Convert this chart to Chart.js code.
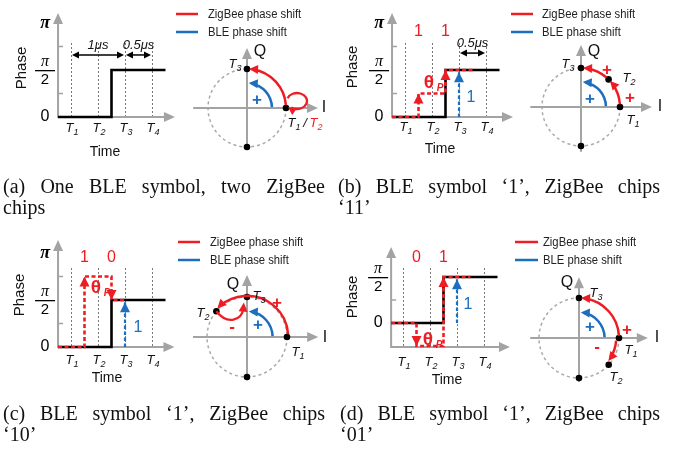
<!DOCTYPE html>
<html>
<head>
<meta charset="utf-8">
<script src="https://cdn.jsdelivr.net/npm/chart.js@4.4.1/dist/chart.umd.min.js"></script>
<style>
  body { margin: 0; background: #fff; }
  #wrap { position: relative; width: 678px; height: 453px; }
  .cap { position: absolute; font: 20px "Liberation Serif", serif; line-height: 20px; color: #111; white-space: nowrap; }
  .j { white-space: normal; text-align: justify; text-align-last: justify; }
</style>
</head>
<body>
<div id="wrap">
  <canvas id="fig" width="678" height="453"></canvas>
  <div class="cap j" style="left:3px;top:176px;width:322px">(a) One BLE symbol, two ZigBee</div>
  <div class="cap" style="left:3px;top:197px">chips</div>
  <div class="cap j" style="left:338px;top:176px;width:322px">(b) BLE symbol ‘1’, ZigBee chips</div>
  <div class="cap" style="left:338px;top:197px">‘11’</div>
  <div class="cap j" style="left:3px;top:403px;width:322px">(c) BLE symbol ‘1’, ZigBee chips</div>
  <div class="cap" style="left:3px;top:424px">‘10’</div>
  <div class="cap j" style="left:340px;top:403px;width:320px">(d) BLE symbol ‘1’, ZigBee chips</div>
  <div class="cap" style="left:340px;top:424px">‘01’</div>
</div>
<script>
// time axis
const timeTickLabels = ['T1', 'T2', 'T3', 'T4'];
const timeTickPos = [1, 2, 3, 4];
// phase axis, values in units of pi/4
const phaseTickLabels = ['0', 'π/2', 'π'];
const phaseTickPos = [0, 2, 4];

// BLE symbol phase (black step) per panel: [time, phase]
const bleA = [[0.52, 0], [2.5, 0], [2.5, 2], [4.5, 2]];
const bleB = [[0.52, 0], [2.5, 0], [2.5, 2], [4.5, 2]];
const bleC = [[0.52, 0], [2.5, 0], [2.5, 2], [4.5, 2]];
const bleD = [[0.56, 0], [2.5, 0], [2.5, 2], [4.5, 2]];

// ZigBee chip phase (red dashed)
const zigB = [[0.52, 0], [1.5, 0], [1.5, 1], [2.5, 1], [2.5, 2], [3.5, 2]];
const zigC = [[0.52, 0], [1.5, 0], [1.5, 3], [2.5, 3], [2.5, 2], [3, 2]];
const zigD = [[0.56, 0], [1.5, 0], [1.5, -1], [2.5, -1], [2.5, 2], [3.5, 2]];

// BLE phase shift at T3 (blue dashed arrow)
const bleShift = [[3, 0], [3, 1.9]];

// chip bits and where they sit on the time axis
const chipPos = [1.5, 2.5];
const bitsB = ['1', '1'];
const bitsC = ['1', '0'];
const bitsD = ['0', '1'];

// constellation points, degrees
const constA = [0, 90, 270];
const constB = [0, 45, 90, 270];
const constC = [0, 140, 90, 270];
const constD = [0, -42, 90, 270];

const W = 678, H = 453;
const RED = '#ee1d23', BLUE = '#1c6fbe', GRAY = '#a3a3a3';

const steps = [
  { key: 'a', ble: bleA, zig: null, shift: null, bits: null,
    x0: 71, dx: 27, y0: 117, dy: 23.5, axisV: 0.52, xAxisV: 0, xEnd: 4.85, yTop: 4.43, dotTop: 3.15,
    minor: [1, 3], nTicks: 3, tY: 128, time: [105, 152], phase: [22, 68],
    dims: [[1, 3, '1μs'], [3, 4, '0.5μs']], dimV: 2.64,
    legend: { x1: 176, x2: 198, tx: 208, y1: 14, y2: 32 } },
  { key: 'b', ble: bleB, zig: zigB, shift: bleShift, bits: bitsB,
    x0: 405, dx: 27, y0: 117, dy: 23.5, axisV: 0.52, xAxisV: 0, xEnd: 5.0, yTop: 4.43, dotTop: 3.15,
    minor: [1, 3], nTicks: 3, tY: 127, time: [440, 149], phase: [353, 67],
    dims: [[3, 4, '0.5μs']], dimV: 2.72, bitsV: 3.62, theta: [433, 83], blueOne: [471, 98],
    legend: { x1: 511, x2: 533, tx: 542, y1: 14, y2: 32 } },
  { key: 'c', ble: bleC, zig: zigC, shift: bleShift, bits: bitsC,
    x0: 71, dx: 27, y0: 347, dy: 23.5, axisV: 0.52, xAxisV: 0, xEnd: 4.83, yTop: 4.55, dotTop: 3.36,
    minor: [1, 3], nTicks: 3, tY: 360, time: [107, 378], phase: [20, 295],
    dims: [], bitsV: 3.79, theta: [100, 288], blueOne: [138, 328],
    legend: { x1: 178, x2: 200, tx: 210, y1: 242, y2: 260 } },
  { key: 'd', ble: bleD, zig: zigD, shift: bleShift, bits: bitsD,
    x0: 403, dx: 27, y0: 323, dy: 23, axisV: 0.56, xAxisV: -1.04, xEnd: 4.96, yTop: 3.3, dotTop: 2.39,
    minor: [1], nTicks: 2, tY: 362, time: [447, 380], phase: [353, 297],
    dims: [], bitsV: 2.83, theta: [432, 340], blueOne: [468, 305],
    legend: { x1: 515, x2: 538, tx: 543, y1: 242, y2: 260 } }
];

const circles = [
  { key: 'a', pts: constA, cx: 247, cy: 108, r: 39, iR: [-1.38, 1.82], qR: [-1.08, 1.54], Q: [260, 52], I: [324, 108],
    blue: [0.64, 2, 86], blueMark: [257, 100],
    red: [[1, 4, 87]], marks: [],
    tl: [['3', 235, 64, '#111']] },
  { key: 'b', pts: constB, cx: 581, cy: 107, r: 39, iR: [-1.3, 1.82], qR: [-1.15, 1.59], Q: [594, 52], I: [660, 107],
    blue: [0.64, 2, 86], blueMark: [590, 99],
    red: [[1, 4, 42], [1, 49, 87]], marks: [['+', 630, 98], ['+', 607, 70]],
    tl: [['3', 568, 64, '#111'], ['2', 629, 78, '#111'], ['1', 633, 120, '#111']] },
  { key: 'c', pts: constC, cx: 247, cy: 337, r: 40, iR: [-1.35, 1.78], qR: [-1.08, 1.55], Q: [233, 285], I: [325, 338],
    blue: [0.64, 2, 86], blueMark: [258, 325],
    red: [[1.03, 4, 136]], marks: [['+', 277, 303], ['-', 232, 327]],
    tl: [['3', 259, 296, '#111'], ['2', 203, 313, '#111'], ['1', 298, 352, '#111']] },
  { key: 'd', pts: constD, cx: 579, cy: 338, r: 40, iR: [-1.22, 1.72], qR: [-1.1, 1.52], Q: [567, 283], I: [657, 338],
    blue: [0.64, 2, 86], blueMark: [590, 327],
    red: [[1.0, 3, 87], [0.93, -4, -38]], marks: [['+', 627, 330], ['-', 597, 347]],
    tl: [['3', 596, 293, '#111'], ['1', 631, 350, '#111'], ['2', 616, 377, '#111']] }
];

const scales = {
  x: { display: false }, y: { display: false }
};
const datasets = [];

steps.forEach(p => {
  scales['x' + p.key] = { type: 'linear', axis: 'x', display: false, min: 1 - p.x0 / p.dx, max: 1 + (W - p.x0) / p.dx };
  scales['y' + p.key] = { type: 'linear', axis: 'y', display: false, min: (p.y0 - H) / p.dy, max: p.y0 / p.dy };
  const ids = { xAxisID: 'x' + p.key, yAxisID: 'y' + p.key, showLine: true, pointRadius: 0, tension: 0, fill: false };
  datasets.push({ ...ids, data: p.ble.map(([x, y]) => ({ x, y })), borderColor: '#000', borderWidth: 2.6, order: 3 });
  if (p.zig) datasets.push({ ...ids, data: p.zig.map(([x, y]) => ({ x, y })), borderColor: RED, borderWidth: 2.6,
    borderDash: [4, 2.5], order: 1, arrows: true });
  if (p.shift) datasets.push({ ...ids, data: p.shift.map(([x, y]) => ({ x, y })), borderColor: BLUE, borderWidth: 2.2,
    borderDash: [3.5, 2.5], order: 2, arrows: true });
});

circles.forEach(c => {
  scales['xC' + c.key] = { type: 'linear', axis: 'x', display: false, min: -c.cx / c.r, max: (W - c.cx) / c.r };
  scales['yC' + c.key] = { type: 'linear', axis: 'y', display: false, min: (c.cy - H) / c.r, max: c.cy / c.r };
  datasets.push({
    xAxisID: 'xC' + c.key, yAxisID: 'yC' + c.key, showLine: false,
    data: c.pts.map(a => ({ x: Math.cos(a * Math.PI / 180), y: Math.sin(a * Math.PI / 180) })),
    pointRadius: 3.3, pointBackgroundColor: '#000', pointBorderWidth: 0, order: 0
  });
});

function head(ctx, x, y, ang, len, wid, col) {
  ctx.save();
  ctx.translate(x, y);
  ctx.rotate(ang);
  ctx.fillStyle = col;
  ctx.beginPath();
  ctx.moveTo(0, 0);
  ctx.lineTo(-len, -wid / 2);
  ctx.lineTo(-len, wid / 2);
  ctx.closePath();
  ctx.fill();
  ctx.restore();
}

function tLabel(ctx, sub, x, y, col, subCol) {
  ctx.save();
  ctx.textBaseline = 'middle';
  ctx.textAlign = 'left';
  ctx.font = 'italic 13px "Liberation Sans"';
  const w = ctx.measureText('T').width;
  ctx.font = 'italic 9px "Liberation Sans"';
  const w2 = ctx.measureText(sub).width;
  const xs = x - (w + w2) / 2;
  ctx.fillStyle = col;
  ctx.font = 'italic 13px "Liberation Sans"';
  ctx.fillText('T', xs, y);
  ctx.fillStyle = subCol || col;
  ctx.font = 'italic 9px "Liberation Sans"';
  ctx.fillText(sub, xs + w, y + 4);
  ctx.restore();
}

function tickLabel(ctx, txt, x, y) {
  ctx.fillStyle = '#000';
  ctx.textAlign = 'center';
  ctx.textBaseline = 'middle';
  if (txt.includes('/')) {
    const [n, d] = txt.split('/');
    ctx.font = 'italic 16px "Liberation Serif"';
    ctx.fillText(n, x, y - 8);
    ctx.font = '15px "Liberation Sans"';
    ctx.fillText(d, x, y + 10);
    ctx.fillRect(x - 10, y, 20, 1.3);
  } else if (txt === 'π') {
    ctx.font = 'italic bold 18px "Liberation Serif"';
    ctx.fillText(txt, x, y);
  } else {
    ctx.font = '16px "Liberation Sans"';
    ctx.fillText(txt, x, y);
  }
}

function arcArrow(ctx, cx, cy, rp, a0, a1, col, lw) {
  const s = a1 > a0 ? 1 : -1;
  const r0 = a0 * Math.PI / 180, r1 = a1 * Math.PI / 180, re = (a1 - s * 6) * Math.PI / 180;
  ctx.strokeStyle = col;
  ctx.lineWidth = lw;
  ctx.beginPath();
  ctx.arc(cx, cy, rp, -r0, -re, s > 0);
  ctx.stroke();
  const ex = cx + rp * Math.cos(r1), ey = cy - rp * Math.sin(r1);
  head(ctx, ex, ey, Math.atan2(-s * Math.cos(r1), -s * Math.sin(r1)), 9, 9, col);
}

function drawStepFrame(chart, ctx, p) {
  const xs = chart.scales['x' + p.key], ys = chart.scales['y' + p.key];
  const X = v => xs.getPixelForValue(v), Y = v => ys.getPixelForValue(v);
  ctx.save();
  ctx.strokeStyle = '#777';
  ctx.lineWidth = 1;
  ctx.setLineDash([2, 2]);
  timeTickPos.forEach(t => {
    ctx.beginPath();
    ctx.moveTo(Math.round(X(t)) + 0.5, Y(p.dotTop));
    ctx.lineTo(Math.round(X(t)) + 0.5, Y(p.xAxisV));
    ctx.stroke();
  });
  ctx.setLineDash([]);
  ctx.strokeStyle = GRAY;
  ctx.lineWidth = 2;
  const ax = X(p.axisV), ay = Y(p.xAxisV);
  ctx.beginPath();
  ctx.moveTo(ax, ay + 1);
  ctx.lineTo(ax, Y(p.yTop) + 8);
  ctx.moveTo(ax - 1, ay);
  ctx.lineTo(X(p.xEnd) - 8, ay);
  ctx.stroke();
  head(ctx, ax, Y(p.yTop), -Math.PI / 2, 11, 10, GRAY);
  head(ctx, X(p.xEnd), ay, 0, 11, 10, GRAY);
  ctx.lineWidth = 1.5;
  p.minor.forEach(v => {
    ctx.beginPath();
    ctx.moveTo(ax, Y(v));
    ctx.lineTo(ax + 5, Y(v));
    ctx.stroke();
  });
  ctx.restore();
}

function drawStepText(chart, ctx, p) {
  const xs = chart.scales['x' + p.key], ys = chart.scales['y' + p.key];
  const X = v => xs.getPixelForValue(v), Y = v => ys.getPixelForValue(v);
  const ax = X(p.axisV);
  ctx.save();
  for (let i = 0; i < p.nTicks; i++) tickLabel(ctx, phaseTickLabels[i], ax - 13, Y(phaseTickPos[i]));
  timeTickLabels.forEach((l, i) => tLabel(ctx, l.slice(1), X(timeTickPos[i]) + 1, p.tY, '#111'));
  ctx.fillStyle = '#111';
  ctx.textAlign = 'center';
  ctx.textBaseline = 'middle';
  ctx.font = '14px "Liberation Sans"';
  ctx.fillText('Time', p.time[0], p.time[1]);
  ctx.save();
  ctx.translate(p.phase[0], p.phase[1]);
  ctx.rotate(-Math.PI / 2);
  ctx.font = '15px "Liberation Sans"';
  ctx.fillText('Phase', 0, 0);
  ctx.restore();

  // duration markers
  p.dims.forEach(([t0, t1, txt]) => {
    const y = Y(p.dimV), xa = X(t0) + 1, xb = X(t1) - 1;
    ctx.strokeStyle = '#000';
    ctx.lineWidth = 1.5;
    ctx.beginPath();
    ctx.moveTo(xa + 5, y);
    ctx.lineTo(xb - 5, y);
    ctx.stroke();
    head(ctx, xa, y, Math.PI, 7, 7, '#000');
    head(ctx, xb, y, 0, 7, 7, '#000');
    ctx.fillStyle = '#111';
    ctx.font = 'italic 13px "Liberation Sans"';
    ctx.fillText(txt, (xa + xb) / 2, y - 10);
  });

  if (p.bits) {
    ctx.fillStyle = RED;
    ctx.font = '16px "Liberation Sans"';
    p.bits.forEach((b, i) => ctx.fillText(b, X(chipPos[i]), Y(p.bitsV)));
    ctx.font = 'bold 19px "Liberation Sans"';
    ctx.fillText('θ', p.theta[0] - 4, p.theta[1]);
    ctx.font = 'bold italic 10px "Liberation Sans"';
    ctx.fillText('P', p.theta[0] + 7, p.theta[1] + 5);
    ctx.fillStyle = BLUE;
    ctx.font = '16px "Liberation Sans"';
    ctx.fillText('1', p.blueOne[0], p.blueOne[1]);
  }

  // legend
  const L = p.legend;
  ctx.lineWidth = 2.5;
  [[RED, L.y1, 'ZigBee phase shift'], [BLUE, L.y2, 'BLE phase shift']].forEach(([col, y, txt]) => {
    ctx.strokeStyle = col;
    ctx.beginPath();
    ctx.moveTo(L.x1, y);
    ctx.lineTo(L.x2, y);
    ctx.stroke();
    ctx.save();
    ctx.translate(L.tx, y);
    ctx.scale(0.9, 1);
    ctx.fillStyle = '#222';
    ctx.textAlign = 'left';
    ctx.font = '12.5px "Liberation Sans"';
    ctx.fillText(txt, 0, 1);
    ctx.restore();
  });
  ctx.restore();
}

function drawCircleFrame(chart, ctx, c) {
  const xs = chart.scales['xC' + c.key], ys = chart.scales['yC' + c.key];
  const X = v => xs.getPixelForValue(v), Y = v => ys.getPixelForValue(v);
  const cx = X(0), cy = Y(0), rp = X(1) - X(0);
  ctx.save();
  ctx.strokeStyle = '#aaa';
  ctx.lineWidth = 1.5;
  ctx.setLineDash([3, 3]);
  ctx.beginPath();
  ctx.arc(cx, cy, rp, 0, Math.PI * 2);
  ctx.stroke();
  ctx.setLineDash([]);
  ctx.strokeStyle = GRAY;
  ctx.lineWidth = 2;
  ctx.beginPath();
  ctx.moveTo(X(c.iR[0]), cy);
  ctx.lineTo(X(c.iR[1]) - 8, cy);
  ctx.moveTo(cx, Y(c.qR[0]));
  ctx.lineTo(cx, Y(c.qR[1]) + 8);
  ctx.stroke();
  head(ctx, X(c.iR[1]), cy, 0, 11, 10, GRAY);
  head(ctx, cx, Y(c.qR[1]), -Math.PI / 2, 11, 10, GRAY);
  ctx.restore();
}

function drawCircleMarks(chart, ctx, c) {
  const xs = chart.scales['xC' + c.key], ys = chart.scales['yC' + c.key];
  const X = v => xs.getPixelForValue(v), Y = v => ys.getPixelForValue(v);
  const cx = X(0), cy = Y(0), rp = X(1) - X(0);
  ctx.save();
  arcArrow(ctx, cx, cy, rp * c.blue[0], c.blue[1], c.blue[2], BLUE, 2.5);
  c.red.forEach(([r, a0, a1]) => arcArrow(ctx, cx, cy, rp * r, a0, a1, RED, 2.5));
  ctx.strokeStyle = RED;
  ctx.lineWidth = 2.3;
  if (c.key === 'a') {
    // self loop at T1/T2
    const tx = X(1), ty = Y(0);
    const ex = tx + 11, ey = ty - 7;
    ctx.beginPath();
    ctx.ellipse(ex, ey, 10, 8, 0, 200 * Math.PI / 180, 485 * Math.PI / 180);
    ctx.stroke();
    head(ctx, tx + 2, ty - 1, Math.atan2(-5, -7), 8, 8, RED);
  }
  if (c.key === 'c') {
    // back-off from T2 towards T3
    const a = 140 * Math.PI / 180;
    ctx.beginPath();
    ctx.moveTo(X(Math.cos(a)), Y(Math.sin(a)));
    ctx.bezierCurveTo(X(-0.5), Y(0.3), X(-0.12), Y(0.4), X(-0.09), Y(0.72));
    ctx.stroke();
    head(ctx, X(-0.08), Y(0.86), Math.atan2(Y(0.86) - Y(0.6), X(-0.08) - X(-0.1)), 9, 9, RED);
  }
  ctx.fillStyle = '#111';
  ctx.textAlign = 'center';
  ctx.textBaseline = 'middle';
  ctx.font = '16px "Liberation Sans"';
  ctx.fillText('Q', c.Q[0], c.Q[1]);
  ctx.fillText('I', c.I[0], c.I[1]);
  c.tl.forEach(([s, x, y, col]) => tLabel(ctx, s, x, y, col));
  if (c.key === 'a') {
    tLabel(ctx, '1', 294, 123, '#111');
    ctx.fillStyle = '#111';
    ctx.font = 'italic 13px "Liberation Sans"';
    ctx.fillText('/', 305, 123);
    tLabel(ctx, '2', 316, 123, RED);
  }
  ctx.font = 'bold 17px "Liberation Sans"';
  c.marks.forEach(([s, x, y]) => { ctx.fillStyle = RED; ctx.fillText(s, x, y); });
  ctx.fillStyle = BLUE;
  ctx.fillText('+', c.blueMark[0], c.blueMark[1]);
  ctx.restore();
}

const figurePlugin = {
  id: 'figure',
  beforeDatasetsDraw(chart) {
    const ctx = chart.ctx;
    steps.forEach(p => drawStepFrame(chart, ctx, p));
    circles.forEach(c => drawCircleFrame(chart, ctx, c));
  },
  afterDatasetsDraw(chart) {
    const ctx = chart.ctx;
    // arrowheads on vertical segments of the dashed steps
    chart.data.datasets.forEach((ds, i) => {
      if (!ds.arrows) return;
      const pts = chart.getDatasetMeta(i).data;
      for (let j = 1; j < pts.length; j++) {
        const a = ds.data[j - 1], b = ds.data[j];
        if (Math.abs(a.x - b.x) < 1e-9 && a.y !== b.y) {
          head(ctx, pts[j].x, pts[j].y, b.y > a.y ? -Math.PI / 2 : Math.PI / 2, 10, 10, ds.borderColor);
        }
      }
    });
    steps.forEach(p => drawStepText(chart, ctx, p));
    circles.forEach(c => drawCircleMarks(chart, ctx, c));
  }
};

new Chart(document.getElementById('fig').getContext('2d'), {
  type: 'scatter',
  data: { datasets },
  options: {
    responsive: false,
    animation: false,
    events: [],
    layout: { padding: 0, autoPadding: false },
    plugins: { legend: { display: false }, tooltip: { enabled: false } },
    scales
  },
  plugins: [figurePlugin]
});
</script>
</body>
</html>
